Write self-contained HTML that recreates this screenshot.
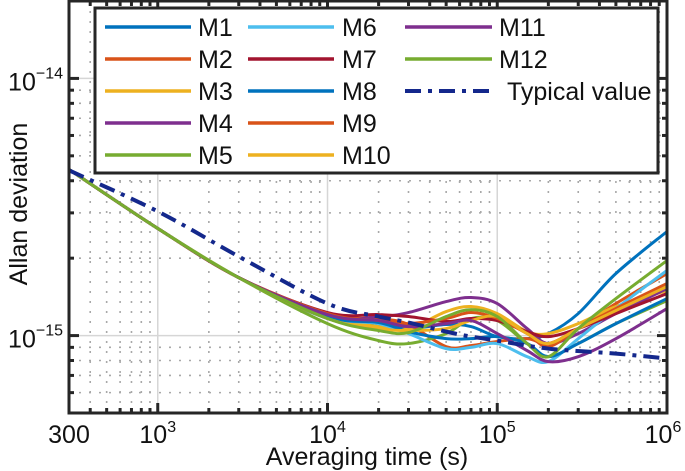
<!DOCTYPE html>
<html><head><meta charset="utf-8">
<style>
html,body{margin:0;padding:0;background:#fff;}
svg{display:block;font-family:"Liberation Sans",Arial,sans-serif;}
</style></head>
<body>
<svg id="chart" width="685" height="471" viewBox="0 0 685 471" xmlns="http://www.w3.org/2000/svg">
<g id="grid"></g>
<g id="series"></g>
<g id="axes"></g>
<g id="legend"></g>
<text x="367" y="465" font-size="25" text-anchor="middle" fill="#111">Averaging time (s)</text>
<text transform="translate(27,204) rotate(-90)" font-size="25" text-anchor="middle" fill="#111">Allan deviation</text>
</svg>
<script>
// data (values in units of 1e-15)
const tau = [300, 1e3, 3e3, 1e4, 2e4, 3e4, 5e4, 7e4, 1e5, 1.5e5, 2e5, 3e5, 5e5, 1e6];
const seriesNames = ["M1","M2","M3","M4","M5","M6","M7","M8","M9","M10","M11","M12"];
const M1  = [4.43,2.61,1.68,1.165,1.104,1.065,1.104,1.084,0.991,0.973,1.018,1.218,1.743,2.54];
const M2  = [4.43,2.61,1.68,1.207,1.165,1.104,0.906,0.914,0.948,0.973,0.931,1.065,1.332,1.743];
const M3  = [4.43,2.61,1.68,1.186,1.084,1.065,1.240,1.297,1.218,1.036,1.018,1.113,1.297,1.497];
const M4  = [4.43,2.61,1.68,1.186,1.186,1.229,1.356,1.406,1.332,1.065,0.931,1.018,1.218,1.524];
const M5  = [4.43,2.61,1.68,1.113,0.956,0.931,1.018,1.165,1.144,0.931,0.828,0.931,1.113,1.368];
const M6  = [4.43,2.61,1.68,1.186,1.113,1.018,0.890,0.900,0.931,0.828,0.792,0.973,1.274,1.791];
const M7  = [4.43,2.61,1.68,1.229,1.207,1.186,1.134,1.165,1.144,1.036,0.991,1.065,1.218,1.457];
const M8  = [4.43,2.61,1.68,1.186,1.124,1.036,0.973,0.973,0.991,0.931,0.828,0.931,1.113,1.393];
const M9  = [4.43,2.61,1.68,1.218,1.144,1.113,1.165,1.229,1.165,1.018,0.906,1.065,1.274,1.594];
const M10 = [4.43,2.61,1.68,1.165,1.065,1.046,1.065,1.144,1.186,1.018,0.931,1.065,1.251,1.551];
const M11 = [4.43,2.61,1.68,1.207,1.144,1.084,1.113,1.144,1.018,0.874,0.792,0.828,0.973,1.274];
const M12 = [4.43,2.61,1.68,1.165,1.046,1.027,1.186,1.262,1.186,0.931,0.828,1.065,1.393,1.958];
const typTau = [300, 1e3, 3e3, 1e4, 2e4, 3e4, 5e4, 7e4, 1e5, 2e5, 5e5, 1e6];
const typical = [4.39,3.04,2.03,1.332,1.186,1.124,1.036,0.991,0.956,0.890,0.851,0.814];
const xTickVals = [300, 1e3, 1e4, 1e5, 1e6];
const xTickLabels = [["300",""],["10","3"],["10","4"],["10","5"],["10","6"]];
const yTickVals = [1e-15, 1e-14];
const yTickLabels = [["10","\u221215"],["10","\u221214"]];

const allSeries = [M1,M2,M3,M4,M5,M6,M7,M8,M9,M10,M11,M12];
const colors = ["#0072BD","#D95319","#EDB120","#7E2F8E","#77AC30","#4DBEEE","#A2142F","#0072BD","#D95319","#EDB120","#7E2F8E","#77AC30"];
const L=69,R=667,T=1,B=413;
const xmin=Math.log10(300), xmax=6, ymin=Math.log10(5e-16), ymax=Math.log10(2e-14);
const X=v=>L+(Math.log10(v)-xmin)/(xmax-xmin)*(R-L);
const Y=v=>B-(Math.log10(v)-ymin)/(ymax-ymin)*(B-T);
const NS="http://www.w3.org/2000/svg";
function mk(tag,attrs,parent){const e=document.createElementNS(NS,tag);for(const k in attrs)e.setAttribute(k,attrs[k]);parent.appendChild(e);return e;}
const grid=document.getElementById('grid'),axes=document.getElementById('axes'),ser=document.getElementById('series'),leg=document.getElementById('legend');

// grid
for(let d=2;d<=6;d++){for(let m=1;m<=9;m++){const v=m*Math.pow(10,d);if(v<300||v>1e6)continue;const x=X(v);
 if(m===1&&d<6){const l=mk('line',{x1:x,x2:x,y1:T,y2:B,stroke:'#d6d6d6','stroke-width':1.5},grid);}
 else if(m!==1){const l=mk('line',{x1:x,x2:x,y1:T,y2:B,stroke:'#a8a8a8','stroke-width':1.6,'stroke-dasharray':'2,8'},grid);}}}
for(let d=-16;d<=-14;d++){for(let m=1;m<=9;m++){const v=m*Math.pow(10,d);if(v<5e-16||v>2e-14)continue;const y=Y(v);
 if(m===1){const l=mk('line',{x1:L,x2:R,y1:y,y2:y,stroke:'#d6d6d6','stroke-width':1.5},grid);}
 else{const l=mk('line',{x1:L,x2:R,y1:y,y2:y,stroke:'#a8a8a8','stroke-width':1.6,'stroke-dasharray':'2,8'},grid);}}}

function pathFrom(xs,ys){const p=xs.map((t,i)=>[X(t),Y(ys[i]*1e-15)]);let d='M'+p[0][0]+','+p[0][1];
 for(let i=0;i<p.length-1;i++){const p0=p[Math.max(0,i-1)],p1=p[i],p2=p[i+1],p3=p[Math.min(p.length-1,i+2)];
 const c1=[p1[0]+(p2[0]-p0[0])/6,p1[1]+(p2[1]-p0[1])/6],c2=[p2[0]-(p3[0]-p1[0])/6,p2[1]-(p3[1]-p1[1])/6];
 d+=' C'+c1[0]+','+c1[1]+' '+c2[0]+','+c2[1]+' '+p2[0]+','+p2[1];}return d;}
allSeries.forEach((s,i)=>{const p=mk('path',{d:pathFrom(tau,s),fill:'none',stroke:colors[i],'stroke-width':3,'stroke-linejoin':'round'},ser);
 
 });
const tp=mk('path',{d:pathFrom(typTau,typical),fill:'none',stroke:'#14288c','stroke-width':4,'stroke-dasharray':'16,7,4,7'},ser);



// axes box and ticks
const box=mk('rect',{x:L,y:T,width:R-L,height:B-T,fill:'none',stroke:'#262626','stroke-width':3},axes);

for(let d=2;d<=6;d++){for(let m=1;m<=9;m++){const v=m*Math.pow(10,d);if(v<300||v>1e6)continue;const x=X(v);const len=m===1?10:5;
 const t1=mk('line',{x1:x,x2:x,y1:B,y2:B-len,stroke:'#262626','stroke-width':3},axes);
 const t2=mk('line',{x1:x,x2:x,y1:T,y2:T+len,stroke:'#262626','stroke-width':3},axes);}}
for(let d=-16;d<=-14;d++){for(let m=1;m<=9;m++){const v=m*Math.pow(10,d);if(v<5e-16||v>2e-14)continue;const y=Y(v);const len=m===1?10:5;
 const t1=mk('line',{x1:L,x2:L+len,y1:y,y2:y,stroke:'#262626','stroke-width':3},axes);
 const t2=mk('line',{x1:R,x2:R-len,y1:y,y2:y,stroke:'#262626','stroke-width':3},axes);}}
xTickVals.forEach((v,i)=>{const off=i===xTickVals.length-1?-4:0;const t=mk('text',{x:X(v)+off,y:443,'font-size':25,'text-anchor':'middle',fill:'#111'},axes);
 
 t.textContent=xTickLabels[i][0];if(xTickLabels[i][1]){const s=mk('tspan',{dy:-11,'font-size':16},t);s.textContent=xTickLabels[i][1];}});
yTickVals.forEach((v,i)=>{const t=mk('text',{x:63,y:Y(v)+12,'font-size':25,'text-anchor':'end',fill:'#111'},axes);
 
 t.textContent=yTickLabels[i][0];const s=mk('tspan',{dy:-12,'font-size':16},t);s.textContent=yTickLabels[i][1];});

// legend
const lb=mk('rect',{x:95,y:8,width:563,height:165,fill:'#fff',stroke:'#262626','stroke-width':3},leg);

const cols=[[105,191,198],[248,334,342],[405,492,499]];
const entries=seriesNames.map((n,i)=>({n,c:colors[i]}));entries.push({n:'Typical value',c:'#14288c',dash:true});
entries.forEach((e,i)=>{let col,row;if(i<5){col=0;row=i}else if(i<10){col=1;row=i-5}else{col=2;row=i-10}
 const y=27+row*32;const c=cols[col];
 const ln=mk('line',{x1:c[0],x2:c[1],y1:y,y2:y,stroke:e.c,'stroke-width':e.dash?4:3.5},leg);
 if(e.dash)ln.setAttribute('stroke-dasharray','16,7,4,7');
 
 const t=mk('text',{x:e.dash?c[2]+8:c[2],y:y+9,'font-size':25,fill:'#111'},leg);
 
 t.textContent=e.n;});
</script>
</body></html>
